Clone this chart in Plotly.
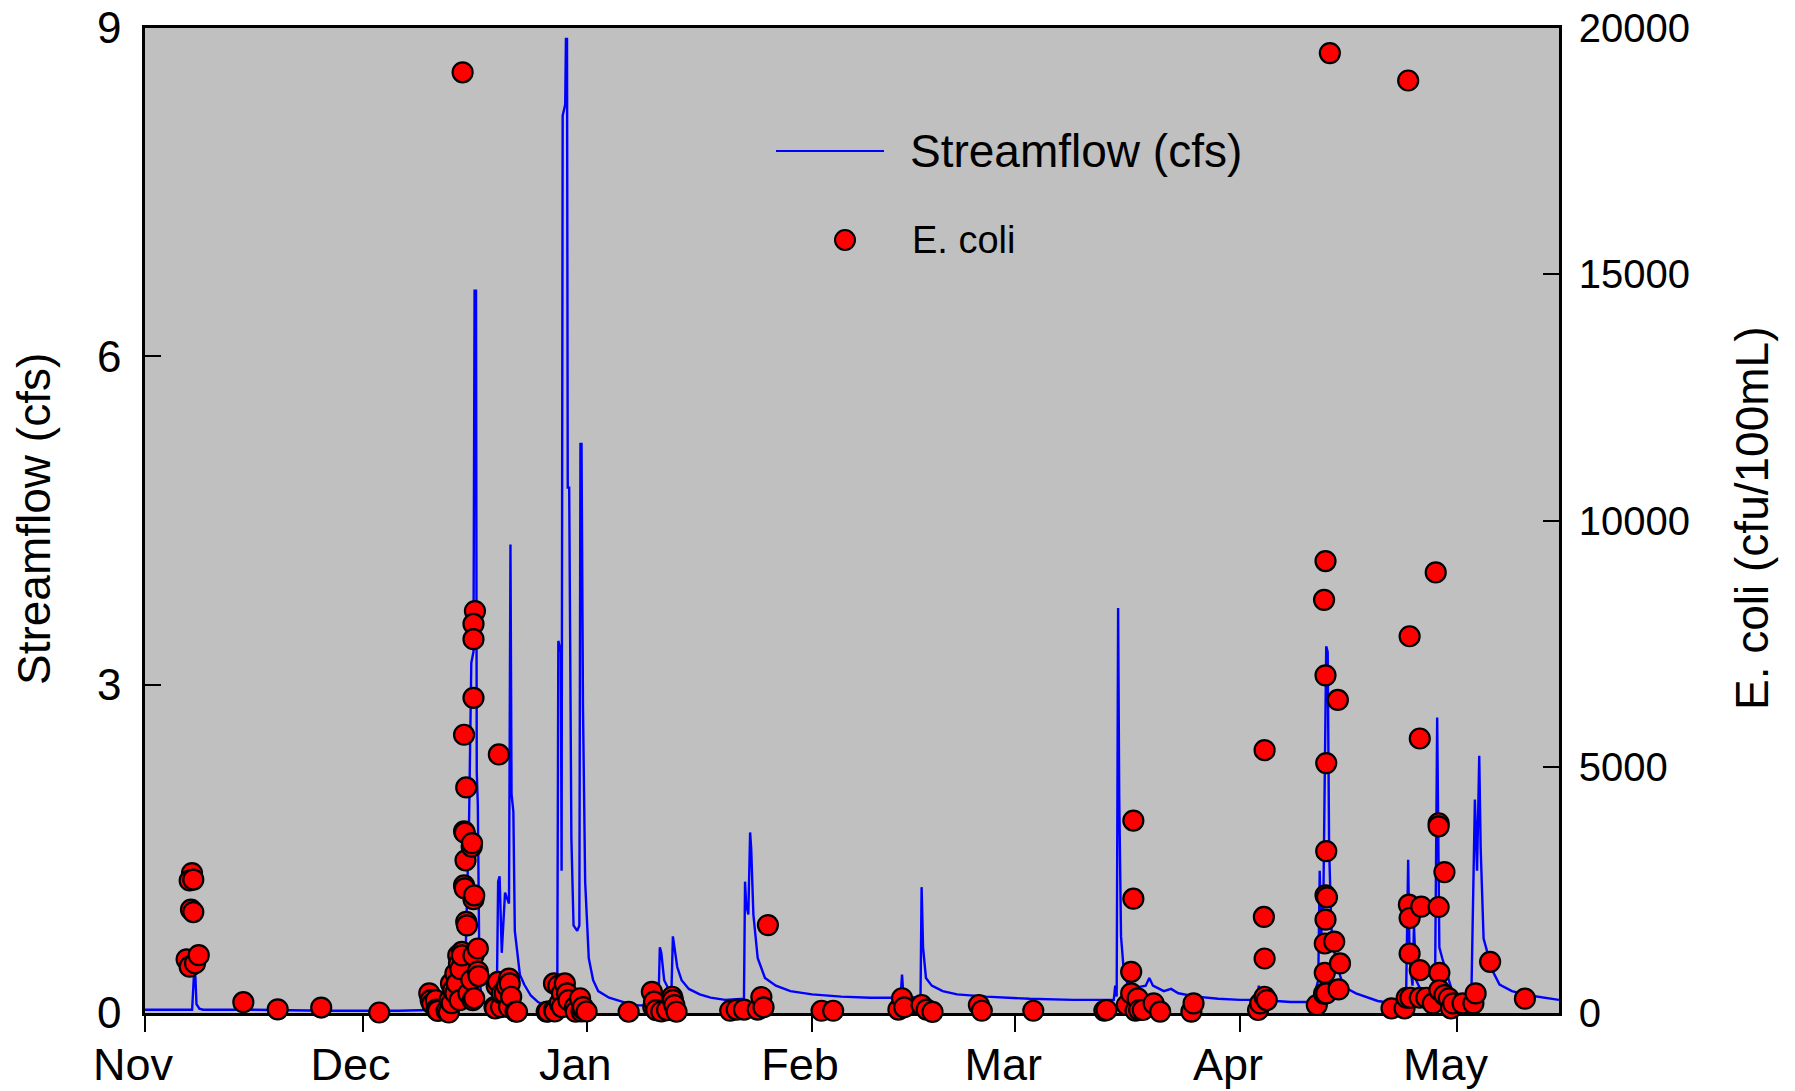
import pandas as pd
import plotly.graph_objects as go

# ---------------- data ----------------
start_date = "2010-11-01"
end_day = 195

month_ticks = ["2010-11-01", "2010-12-01", "2011-01-01", "2011-02-01",
               "2011-03-01", "2011-04-01", "2011-05-01"]
month_labels = ["Nov", "Dec", "Jan", "Feb", "Mar", "Apr", "May"]

flow_ticks = [0, 3, 6, 9]
ecoli_ticks = [0, 5000, 10000, 15000, 20000]
ecoli_tick_labels = ["0", "5000", "10000", "15000", "20000"]

# streamflow: days since Nov 1, cfs
flow_day = [0, 3, 6.5, 6.75, 6.95, 7.1, 7.5, 8, 15, 25, 35, 40.5, 42, 43.3, 43.5, 43.8,
            44.2, 44.7, 45.0, 45.3, 45.45, 45.65, 45.75, 45.9, 46.1, 46.3, 46.8, 47.5,
            48.5, 48.7, 48.9, 49.2, 49.65, 50.2, 50.4, 50.55, 50.8, 51.0, 51.3, 51.7,
            52.3, 53.2, 54.2, 55.7, 56.85,
            57.0, 57.35, 57.45, 57.6, 57.95, 58.05, 58.2, 58.3, 58.5, 58.8, 59.1, 59.6,
            59.9, 60.05, 60.2, 60.4, 60.7, 61.2, 61.8, 62.5, 64, 66, 68, 70.8,
            71.0, 71.2, 71.6, 72.2, 72.6, 72.8, 73.0, 73.4, 74, 75, 76.5, 78, 80, 82.6,
            82.75, 82.9, 83.2, 83.45, 83.6, 83.9, 84.5, 85.5, 87, 89, 92, 96, 100, 104.2,
            104.4, 104.6, 106.95, 107.1, 107.3, 107.7, 108.5, 110, 112, 116, 122, 128,
            133.6, 133.8, 134.0, 134.2, 134.35, 134.6, 135.0, 135.5, 136.5, 138, 138.5,
            139, 140.5, 141.5, 142.5, 145, 148, 151, 153.4, 153.6, 153.9, 156, 158, 161,
            161.8, 162.0, 162.2, 162.5, 162.9, 163.1, 163.3, 163.6, 164.2, 165.3, 167,
            170, 173, 173.9, 174.2, 174.4, 174.8, 175.0, 175.3, 176.0, 177.3, 177.9,
            178.2, 178.5, 178.9, 179.4, 180, 180.5, 181.5, 182.9, 183.4, 183.7, 184.0,
            184.2, 184.6, 185.8, 186.8, 188.5, 191, 195]
flow_cfs = [0.03, 0.03, 0.03, 0.35, 0.33, 0.08, 0.04, 0.03, 0.03, 0.02, 0.02, 0.03, 0.04,
            0.1, 0.37, 0.3, 0.5, 1.8, 3.2, 3.3, 6.6, 6.6, 2.2, 1.9, 0.5, 0.2, 0.1, 0.08,
            0.06, 1.2, 1.25, 0.55, 1.1, 1.0, 4.28, 2.0, 1.84, 0.75, 0.57, 0.35, 0.26,
            0.16, 0.1, 0.05, 0.05,
            3.4, 3.3, 1.3, 8.2, 8.3, 8.9, 8.9, 4.8, 4.8, 1.6, 0.8, 0.75, 0.8, 5.2, 5.2,
            2.8, 1.2, 0.5, 0.3, 0.2, 0.14, 0.1, 0.07, 0.07,
            0.6, 0.55, 0.3, 0.22, 0.2, 0.7, 0.6, 0.42, 0.3, 0.22, 0.17, 0.14, 0.12, 0.13,
            1.2, 1.0, 0.9, 1.65, 1.5, 0.9, 0.5, 0.32, 0.25, 0.2, 0.17, 0.15, 0.14, 0.14,
            0.35, 0.15, 0.14, 1.15, 0.6, 0.32, 0.25, 0.2, 0.17, 0.15, 0.13, 0.12,
            0.12, 0.25, 0.15, 3.7, 2.0, 0.7, 0.37, 0.27, 0.23, 0.25, 0.32,
            0.25, 0.2, 0.22, 0.18, 0.15, 0.13, 0.12, 0.12, 0.25, 0.15, 0.11, 0.1, 0.1,
            0.3, 1.3, 0.7, 1.0, 3.35, 3.3, 1.5, 0.78, 0.47, 0.24, 0.18,
            0.11, 0.08, 0.1, 1.4, 0.5, 0.25, 0.8, 0.3, 0.2, 0.15, 0.2,
            2.7, 0.6, 0.5, 0.4, 0.26, 0.15, 0.1, 0.1, 1.95, 1.3, 2.35,
            1.5, 0.68, 0.39, 0.26, 0.2, 0.16, 0.12]

# E. coli samples: days since Nov 1, cfu/100mL
ecoli_day = [5.74, 6.16, 6.34, 6.48, 6.16, 6.66, 6.66, 6.9, 7.41, 13.56, 18.3, 24.3, 32.3,
             39.2, 39.4, 39.6, 40.1, 40.2, 40.4, 41.6, 41.9, 42.0, 42.2, 42.3, 42.5, 42.8,
             42.8, 43.0, 43.2, 43.3, 43.4, 43.5, 43.7, 43.7, 43.8, 44.0, 44.0, 44.0, 44.1,
             44.1, 44.2, 44.3, 44.3, 44.4, 44.6, 45.0, 45.05, 45.1, 45.2, 45.5, 45.3,
             45.3, 45.3, 45.3, 45.3, 45.4, 45.4, 45.9, 45.9, 46.0,
             48.2, 48.3, 48.5, 48.7, 48.8, 49.1, 49.2, 49.6, 49.9, 50.2, 50.2, 50.3, 50.5,
             51.1, 51.3,
             55.4, 55.6, 56.4, 56.4, 56.5, 57.0, 57.2, 57.5, 57.5, 57.9, 58.2, 58.4, 59.3,
             59.4, 60.0, 60.2, 60.3, 60.4, 60.9, 66.7, 69.9, 70.1, 70.2, 70.5, 71.2, 72.0,
             72.7, 72.8, 73.0, 73.3,
             80.7, 81.6, 82.6, 84.5, 85.0, 85.3, 85.9, 93.3, 94.9, 103.9, 104.4, 104.7,
             107.1, 107.8, 108.6, 115.0, 115.4, 122.5, 132.3, 132.6,
             135.4, 136.0, 136.0, 136.3, 136.3, 136.6, 136.9, 137.1, 137.6, 139.1, 140.0,
             144.3, 144.6,
             153.5, 153.8, 154.3, 154.4, 154.4, 154.4, 154.7,
             161.6, 162.6, 162.7, 162.7, 162.6, 162.8, 162.8, 162.8, 162.8, 162.9, 162.9,
             162.9, 163.0, 163.4, 164.0, 164.5, 164.6, 164.8,
             171.9, 173.7, 174.0, 174.2, 174.4, 174.3, 174.4, 174.4, 174.5, 175.8, 175.8,
             175.8, 176.0, 176.7, 177.6, 178.0, 178.4, 178.4, 178.4, 178.5, 178.5, 179.2,
             179.2, 179.8, 180.1, 180.4, 181.7, 183.2, 183.5, 185.5, 190.3]
ecoli_cfu = [1090, 940, 2100, 2840, 2690, 2710, 2050, 1010, 1175, 220, 75, 110, 10,
             400, 260, 190, 260, 70, 45, 45, 10, 260, 600, 200, 470, 400,
             800, 600, 1170, 1000, 260, 890, 1240, 1170, 19100, 5650, 3690, 2590, 3660,
             2530, 3100, 4580, 1850, 1780, 400, 670, 3380, 3450, 260, 8160, 7900,
             7590, 6400, 2310, 1170, 2390, 300, 1310, 840, 750,
             120, 95, 550, 630, 5250, 120, 400, 400, 550, 700, 120, 600, 330,
             30, 25,
             25, 30, 60, 600, 30, 550, 200, 400, 120, 600, 400, 260, 120,
             25, 300, 30, 95, 120, 30, 25, 430, 120, 230, 60, 30, 60,
             330, 260, 160, 25,
             46, 70, 70, 70, 324, 116, 1785, 46, 46, 70, 300, 116,
             162, 70, 23, 162, 46, 46, 46, 61,
             162, 836, 398, 3907, 2321, 46, 297, 61, 61, 196, 27,
             27, 196,
             61, 196, 1950, 5337, 1107, 330, 263,
             162, 394, 1411, 816, 8389, 9177, 6856, 2389, 1896, 5074, 3286,
             398, 2349, 19490, 1450, 6356, 479, 1006,
             95, 95, 310, 18934, 7650, 2200, 1929, 1208, 310, 5574, 870,
             310, 2160, 310, 196, 8946, 3853, 3791, 2152, 816, 466, 2861,
             364, 297, 95, 196, 196, 196, 398, 1039, 290]

# ---------------- figure ----------------
start = pd.Timestamp(start_date)
flow_x = start + pd.to_timedelta(flow_day, unit="D")
ecoli_x = start + pd.to_timedelta(ecoli_day, unit="D")
x_end = start + pd.Timedelta(days=end_day)

FONT = "Arial, Liberation Sans, sans-serif"

fig = go.Figure()
fig.add_trace(go.Scatter(
    x=flow_x, y=flow_cfs, mode="lines", name="Streamflow (cfs)",
    line=dict(color="#0000FF", width=2.4), yaxis="y", showlegend=False))
fig.add_trace(go.Scatter(
    x=ecoli_x, y=ecoli_cfu, mode="markers", name="E. coli",
    marker=dict(color="#FF0000", size=20, line=dict(color="black", width=2.2)),
    yaxis="y2", cliponaxis=False, showlegend=False))

W, H = 1795, 1091
L, T = 145, 28
pw, ph = 1414, 985
R, B = W - L - pw, H - T - ph


def px(xp):
    return (xp - L) / pw


def py(yp):
    return (T + ph - yp) / ph


fig.update_layout(
    width=W, height=H,
    margin=dict(l=L, r=R, t=T, b=B, pad=0, autoexpand=False),
    paper_bgcolor="white", plot_bgcolor="#C0C0C0",
    font=dict(family=FONT, color="black"),
    xaxis=dict(
        range=[start, x_end], tickvals=month_ticks, ticktext=month_labels,
        ticks="outside", ticklen=16, tickwidth=2, tickcolor="black",
        showline=True, linecolor="black", linewidth=2.5, mirror=True,
        showgrid=False, zeroline=False, layer="below traces", automargin=False,
        ticklabeloverflow="allow",
        tickfont=dict(size=45, family=FONT), ticklabelshift=-12, ticklabelstandoff=-6),
    yaxis=dict(
        range=[0, 9], tickvals=flow_ticks, ticks="inside", ticklen=16, tickwidth=2,
        tickcolor="black", showline=True, linecolor="black", linewidth=2.5, mirror=True,
        showgrid=False, zeroline=False, layer="below traces", automargin=False,
        ticklabeloverflow="allow",
        tickfont=dict(size=44, family=FONT), ticklabelstandoff=12),
    yaxis2=dict(
        range=[0, 20000], tickvals=ecoli_ticks, ticktext=ecoli_tick_labels,
        overlaying="y", side="right", ticks="inside", ticklen=16, tickwidth=2,
        tickcolor="black", showline=True, linecolor="black", linewidth=2.5,
        showgrid=False, zeroline=False, layer="below traces", automargin=False,
        ticklabeloverflow="allow",
        tickfont=dict(size=40, family=FONT), ticklabelstandoff=9),
)

# axis titles
fig.add_annotation(text="Streamflow (cfs)", xref="paper", yref="paper",
                   x=px(34), y=py(519), textangle=-90, showarrow=False,
                   xanchor="center", yanchor="middle", font=dict(size=46, family=FONT))
fig.add_annotation(text="E. coli (cfu/100mL)", xref="paper", yref="paper",
                   x=px(1752), y=py(519), textangle=-90, showarrow=False,
                   xanchor="center", yanchor="middle", font=dict(size=46, family=FONT))

# legend (drawn inside the plot)
fig.add_shape(type="line", xref="paper", yref="paper",
              x0=px(776), x1=px(884), y0=py(151), y1=py(151),
              line=dict(color="#0000FF", width=2))
fig.add_annotation(text="Streamflow (cfs)", xref="paper", yref="paper",
                   x=px(908), y=py(151), showarrow=False, xanchor="left",
                   yanchor="middle", font=dict(size=46, family=FONT))
fig.add_shape(type="circle", xref="paper", yref="paper",
              xsizemode="pixel", ysizemode="pixel",
              xanchor=px(845), yanchor=py(240), x0=-10, x1=10, y0=-10, y1=10,
              fillcolor="#FF0000", line=dict(color="black", width=2))
fig.add_annotation(text="E. coli", xref="paper", yref="paper",
                   x=px(910), y=py(240), showarrow=False, xanchor="left",
                   yanchor="middle", font=dict(size=38, family=FONT))

# remove the default 8px page margin so the figure fills the window exactly
fig.write_html("out.html", config={"displayModeBar": False},
               post_script="document.body.style.margin='0';")
